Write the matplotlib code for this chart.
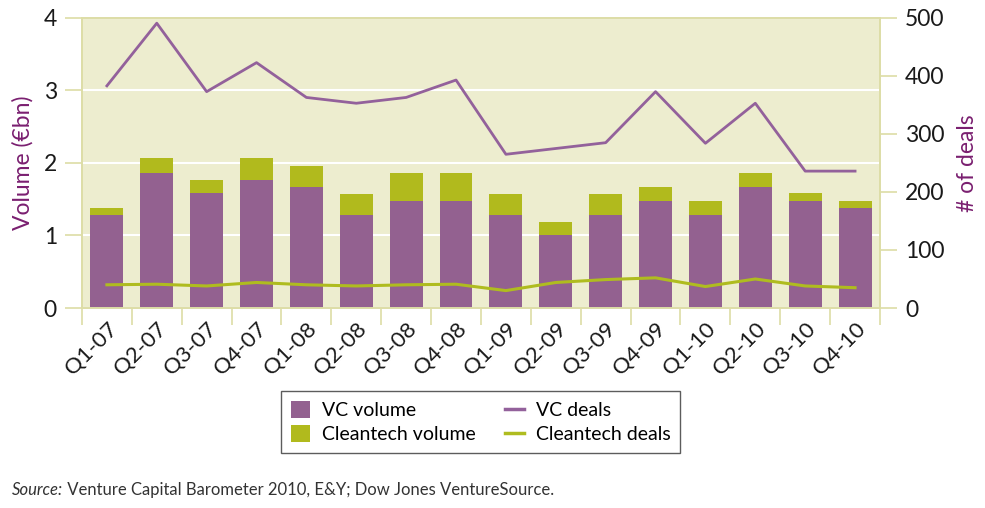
import matplotlib.pyplot as plt
import numpy as np

# Data
quarters = ["Q1-07", "Q2-07", "Q3-07", "Q4-07", "Q1-08", "Q2-08", "Q3-08", "Q4-08",
            "Q1-09", "Q2-09", "Q3-09", "Q4-09", "Q1-10", "Q2-10", "Q3-10", "Q4-10"]
vc_volume = [1.28, 1.86, 1.58, 1.77, 1.67, 1.28, 1.48, 1.48,
             1.28, 1.00, 1.28, 1.48, 1.28, 1.67, 1.48, 1.38]
cleantech_volume = [0.10, 0.21, 0.19, 0.30, 0.29, 0.29, 0.38, 0.38,
                    0.29, 0.19, 0.29, 0.19, 0.19, 0.19, 0.10, 0.10]
vc_deals = [383, 491, 373, 423, 363, 353, 363, 393,
            265, 275, 285, 373, 284, 353, 236, 236]
cleantech_deals = [40, 41, 38, 44, 40, 38, 40, 41,
                   30, 44, 49, 52, 37, 50, 38, 35]

PURPLE = "#936190"
GREEN = "#B1BA1D"
BG = "#EDEDCF"
SPINE = "#DDDDA6"
LABEL = "#7A1F70"
TXT = "#1A1A1A"

plt.rcParams["font.family"] = ["Lato", "DejaVu Sans"]

fig = plt.figure(figsize=(9.85, 5.08), dpi=100)
ax = fig.add_axes([0.0832, 0.3937, 0.8102, 0.5709])
ax.set_facecolor(BG)

# --- barras apiladas (eje izquierdo) ---
x = np.arange(len(quarters))
ax.bar(x, vc_volume, width=0.66, color=PURPLE, label="VC volume", zorder=2)
ax.bar(x, cleantech_volume, width=0.66, bottom=vc_volume, color=GREEN,
       label="Cleantech volume", zorder=2)

ax.set_xlim(-0.5, len(quarters) - 0.5)
ax.set_ylim(0, 4)
ax.set_yticks([0, 1, 2, 3, 4])
ax.yaxis.grid(True, color="white", linewidth=1.5, zorder=1)
ax.set_axisbelow(True)

ax.set_xticks(x)
ax.set_xticklabels(quarters, rotation=45, ha="right", rotation_mode="anchor",
                   fontsize=16, color=TXT)
ax.tick_params(axis="x", which="major", length=0, pad=8)
ax.set_xticks(np.arange(-0.5, len(quarters)), minor=True)
ax.tick_params(axis="x", which="minor", length=12, width=1.2, color=SPINE)
ax.tick_params(axis="y", length=12, width=1.2, color=SPINE, labelsize=16.5,
               labelcolor=TXT, pad=6)
for s in ax.spines.values():
    s.set_color(SPINE)
    s.set_linewidth(1.2)
ax.set_ylabel("Volume (€bn)", fontsize=16.5, color=LABEL, labelpad=7)

# --- lineas (eje derecho) ---
ax2 = ax.twinx()
ax2.plot(x, vc_deals, color="#93619B", linewidth=2, label="VC deals", zorder=3)
ax2.plot(x, cleantech_deals, color="#AFBC1F", linewidth=2.2,
         label="Cleantech deals", zorder=3)
ax2.set_ylim(0, 500)
ax2.set_yticks([0, 100, 200, 300, 400, 500])
ax2.tick_params(axis="y", length=12, width=1.2, color=SPINE, labelsize=16.5,
                labelcolor=TXT, pad=6)
for s in ax2.spines.values():
    s.set_color(SPINE)
    s.set_linewidth(1.2)
ax2.set_ylabel("# of deals", fontsize=16.5, color=LABEL, labelpad=9)

# --- leyenda ---
h1, l1 = ax.get_legend_handles_labels()
h2, l2 = ax2.get_legend_handles_labels()
leg = fig.legend(h1 + h2, l1 + l2, ncol=2, loc="center",
                 bbox_to_anchor=(0.488, 0.169), fontsize=14, frameon=True,
                 fancybox=False, edgecolor="#333333", handlelength=1.0,
                 handleheight=1.0, columnspacing=1.5, labelspacing=0.3,
                 borderpad=0.5, handletextpad=0.6)
leg.get_frame().set_linewidth(1.0)
for line in leg.get_lines():
    line.set_linewidth(2.5)

# --- fuente ---
src = fig.text(0.012, 0.025, "Source:", fontsize=12, style="italic", color="#333333")
fig.add_artist(plt.Annotation(" Venture Capital Barometer 2010, E&Y; Dow Jones VentureSource.",
                              xy=(1, 0), xycoords=src, va="bottom",
                              fontsize=12, color="#333333"))

fig.savefig("out.png", dpi=100)
